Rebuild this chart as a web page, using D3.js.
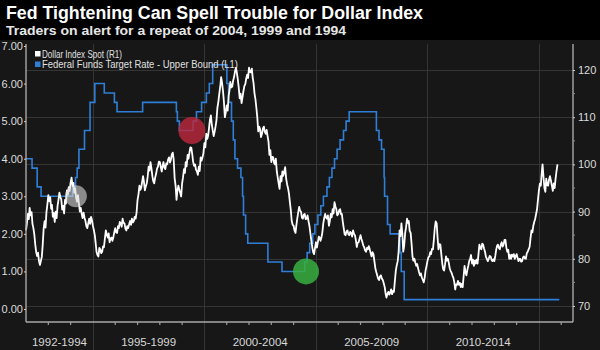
<!DOCTYPE html>
<html><head><meta charset="utf-8">
<script src="https://cdn.jsdelivr.net/npm/d3@7"></script>
<style>html,body{margin:0;padding:0;background:#000;} svg{display:block}</style>
</head><body><svg id="c" width="600" height="350"></svg>
<script>
// ---------------- DATA ----------------
const titleText = "Fed Tightening Can Spell Trouble for Dollar Index";
const subtitleText = "Traders on alert for a repeat of 2004, 1999 and 1994";
const legendLabels = ["Dollar Index Spot (R1)", "Federal Funds Target Rate - Upper Bound (L1)"];

// Dollar Index Spot, twice a month (1st and 16th), starting Jan 1992
const dxyStartYear = 1992;
const dxySemiMonthly = [
  86.0, 87.5, 89.5, 88.4, 90.8, 89.2, 89.9, 87.4, 86.5, 85.2, 83.0, 81.4, 80.6, 81.3, 79.5, 78.7, 79.6, 80.4, 83.0, 86.4, 88.0, 86.6, 89.9, 91.5, // 1992
  93.5, 92.2, 93.0, 90.6, 91.4, 88.9, 89.7, 87.8, 90.0, 88.6, 91.2, 92.5, 94.0, 93.1, 92.6, 90.4, 91.2, 89.6, 92.5, 91.7, 94.5, 93.6, 95.2, 94.4, // 1993
  96.2, 97.2, 95.4, 96.1, 94.0, 94.9, 93.0, 92.1, 93.5, 91.8, 90.0, 90.8, 89.5, 88.6, 89.8, 88.7, 88.0, 86.9, 86.5, 87.5, 88.5, 87.4, 88.9, 88.2, // 1994
  87.0, 86.1, 85.0, 83.2, 81.5, 80.8, 80.5, 82.3, 82.0, 81.2, 81.5, 82.6, 82.5, 84.3, 86.0, 85.1, 84.5, 85.4, 83.5, 84.3, 84.5, 83.8, 84.5, 85.6, // 1995
  86.5, 85.6, 85.5, 86.9, 86.5, 87.8, 87.5, 86.8, 88.5, 87.6, 87.5, 86.4, 86.0, 86.9, 86.5, 87.3, 88.0, 87.2, 88.5, 87.7, 88.0, 88.9, 88.5, 89.8, // 1996
  92.5, 93.6, 95.5, 94.6, 95.0, 96.2, 97.5, 96.3, 94.5, 95.3, 96.0, 97.4, 99.5, 98.7, 100.5, 99.2, 97.5, 96.4, 96.0, 97.2, 98.0, 99.1, 99.5, 100.6, // 1997
  100.5, 99.5, 98.5, 99.7, 100.5, 99.4, 99.0, 100.2, 100.0, 101.0, 101.5, 100.4, 101.0, 102.1, 102.5, 101.0, 97.0, 95.5, 92.5, 94.5, 95.5, 94.6, 94.0, 93.2, // 1998
  96.0, 97.3, 99.0, 98.2, 100.5, 99.6, 102.0, 101.2, 102.5, 103.6, 103.5, 102.1, 100.5, 99.7, 100.0, 98.9, 98.5, 97.8, 99.5, 98.6, 101.5, 100.8, 101.5, 102.4, // 1999
  104.5, 103.6, 106.5, 105.4, 106.0, 107.6, 109.5, 110.4, 108.5, 107.2, 106.0, 106.9, 108.0, 109.3, 112.0, 113.2, 115.0, 116.4, 118.5, 117.3, 115.5, 113.2, 110.0, 111.0, // 2000
  112.5, 111.4, 114.5, 115.8, 117.5, 116.3, 116.5, 117.8, 118.5, 119.7, 120.5, 119.4, 118.0, 116.3, 114.0, 115.0, 113.0, 114.2, 115.5, 116.6, 117.0, 118.2, 119.0, 118.3, // 2001
  120.5, 119.6, 119.5, 120.3, 118.5, 117.2, 115.0, 113.8, 112.0, 110.0, 107.0, 108.0, 107.5, 105.8, 106.5, 107.6, 108.0, 106.9, 106.5, 107.3, 106.0, 104.8, 102.0, 103.0, // 2002
  100.5, 101.6, 101.5, 100.3, 100.0, 101.2, 98.5, 97.2, 96.0, 94.8, 97.5, 96.4, 98.5, 97.6, 98.5, 99.4, 97.0, 95.8, 95.0, 93.9, 92.0, 90.3, 88.0, 87.2, // 2003
  87.0, 86.0, 85.5, 87.2, 88.5, 89.8, 91.0, 90.2, 90.0, 88.7, 88.5, 89.4, 89.5, 88.4, 88.5, 89.2, 88.0, 87.0, 85.5, 84.0, 82.5, 81.4, 81.0, 82.2, // 2004
  83.5, 82.4, 83.5, 84.7, 84.5, 83.8, 84.5, 85.6, 87.5, 88.6, 89.5, 88.7, 88.5, 89.2, 87.0, 88.0, 89.5, 88.8, 90.5, 89.6, 92.0, 91.1, 90.5, 89.2, // 2005
  89.5, 90.3, 90.5, 89.4, 89.5, 87.9, 86.5, 85.2, 85.0, 85.8, 86.0, 85.2, 85.0, 85.7, 85.5, 84.7, 86.0, 85.3, 85.0, 84.0, 82.5, 83.4, 83.5, 84.3, // 2006
  85.0, 84.2, 83.5, 82.8, 82.5, 81.8, 81.5, 82.3, 82.0, 82.7, 82.0, 81.2, 80.5, 81.4, 81.0, 79.5, 78.0, 77.2, 76.5, 75.8, 75.5, 76.3, 76.5, 75.8, // 2007
  75.5, 74.8, 74.0, 72.6, 71.8, 72.6, 73.0, 72.4, 72.8, 73.5, 72.5, 73.2, 73.0, 75.2, 77.5, 78.6, 79.5, 81.5, 86.0, 84.8, 87.5, 85.3, 81.5, 82.8, // 2008
  85.5, 86.7, 88.5, 87.6, 88.0, 85.9, 85.5, 83.2, 80.5, 79.6, 80.0, 79.2, 78.5, 78.9, 78.0, 77.2, 76.5, 76.9, 76.0, 75.6, 75.0, 75.9, 77.5, 78.4, // 2009
  79.5, 80.3, 80.5, 81.4, 81.0, 82.1, 82.0, 84.0, 86.5, 87.9, 87.5, 84.5, 82.0, 83.1, 83.0, 81.0, 79.0, 77.8, 77.5, 78.8, 80.5, 79.6, 80.0, 79.2, // 2010
  78.0, 77.4, 77.0, 76.4, 76.0, 75.1, 73.5, 74.6, 74.5, 75.3, 74.5, 74.9, 74.0, 74.7, 74.0, 76.2, 78.5, 77.1, 76.5, 77.6, 78.5, 79.5, 80.0, 80.8, // 2011
  79.0, 79.8, 78.5, 79.6, 79.0, 79.8, 79.0, 81.0, 83.0, 82.3, 82.0, 83.2, 83.0, 82.2, 81.5, 80.4, 80.0, 79.5, 80.0, 80.6, 80.5, 79.8, 79.5, 79.9, // 2012
  79.5, 80.6, 82.0, 82.8, 83.0, 82.3, 82.0, 83.0, 83.5, 82.6, 83.0, 84.0, 84.0, 82.4, 81.5, 81.9, 80.0, 80.8, 80.0, 80.9, 80.5, 81.0, 80.0, 80.5, // 2013
  81.0, 80.2, 79.5, 80.0, 80.0, 79.4, 79.5, 80.3, 80.5, 80.1, 80.0, 81.2, 81.5, 82.0, 82.5, 84.3, 86.0, 85.6, 87.0, 87.8, 88.5, 89.5, 90.5, 92.5, // 2014
  94.5, 95.9, 95.5, 98.2, 100.0, 97.5, 95.0, 94.2, 97.0, 95.6, 95.5, 96.8, 97.5, 96.6, 95.5, 94.4, 96.0, 95.0, 97.0, 98.6, 100.0 // 2015
];

// Federal Funds Target Rate - Upper Bound (step changes)
const fedDates = ["1992-01-01","1992-04-09","1992-07-02","1992-09-04","1994-02-04","1994-03-22","1994-04-18",
  "1994-05-17","1994-08-16","1994-11-15","1995-02-01","1995-07-06","1995-12-19","1996-01-31","1997-03-25",
  "1998-09-29","1998-10-15","1998-11-17","1999-06-30","1999-08-24","1999-11-16","2000-02-02","2000-03-21",
  "2000-05-16","2001-01-03","2001-01-31","2001-03-20","2001-04-18","2001-05-15","2001-06-27","2001-08-21",
  "2001-09-17","2001-10-02","2001-11-06","2001-12-11","2002-11-06","2003-06-25","2004-06-30","2004-08-10",
  "2004-09-21","2004-11-10","2004-12-14","2005-02-02","2005-03-22","2005-05-03","2005-06-30","2005-08-09",
  "2005-09-20","2005-11-01","2005-12-13","2006-01-31","2006-03-28","2006-05-10","2006-06-29","2007-09-18",
  "2007-10-31","2007-12-11","2008-01-22","2008-01-30","2008-03-18","2008-04-30","2008-10-08","2008-10-29",
  "2008-12-16","2015-11-30"];
const fedRates = [4.00,3.75,3.25,3.00,3.25,3.50,3.75,
  4.25,4.75,5.50,6.00,5.75,5.50,5.25,5.50,
  5.25,5.00,4.75,5.00,5.25,5.50,5.75,6.00,
  6.50,6.00,5.50,5.00,4.50,4.00,3.75,3.50,
  3.00,2.50,2.00,1.75,1.25,1.00,1.25,1.50,
  1.75,2.00,2.25,2.50,2.75,3.00,3.25,3.50,
  3.75,4.00,4.25,4.50,4.75,5.00,5.25,4.75,
  4.50,4.25,3.50,3.00,2.25,2.00,1.50,1.00,
  0.25,0.25];

// Highlight circles (date, rate on left axis)
const markDates = ["1994-03-28", "1999-06-10", "2004-07-22"];
const markRates = [3.00, 4.75, 1.00];

// Axis ticks and period labels
const leftTicks = [0, 1, 2, 3, 4, 5, 6, 7];
const rightTicks = [70, 80, 90, 100, 110, 120];
const rightMinorTicks = [75, 85, 95, 105, 115];
const periodBounds = [1992, 1995, 2000, 2005, 2010, 2015];
const periodLabels = ["1992-1994", "1995-1999", "2000-2004", "2005-2009", "2010-2014"];

// ---------------- DRAW ----------------
(function () {
const svg = d3.select("#c");
const W = 600, H = 350;
const pLeft = 26, pRight = 573, pTop = 44, pBottom = 322;
const parse = d3.utcParse("%Y-%m-%d");
const yr = y => new Date(Date.UTC(y, 0, 1));
const FONT = "Liberation Sans, Arial, sans-serif";

svg.append("rect").attr("width", W).attr("height", H).attr("fill", "#000");
svg.append("rect").attr("x", 0).attr("y", 40).attr("width", W).attr("height", H - 40).attr("fill", "#171717");

const x = d3.scaleUtc().domain([yr(1992), new Date(Date.UTC(2016, 6, 12))]).range([pLeft, pRight]);
const yL = d3.scaleLinear().domain([-0.346, 7.053]).range([pBottom, pTop]);
const yR = d3.scaleLinear().domain([66.61, 125.51]).range([pBottom, pTop]);

// title
svg.append("text").attr("x", 6).attr("y", 19).text(titleText)
  .attr("font-family", FONT).attr("font-weight", "bold")
  .attr("font-size", 17.5).attr("fill", "#fff")
  .attr("textLength", 417).attr("lengthAdjust", "spacingAndGlyphs");
svg.append("text").attr("x", 6).attr("y", 35).text(subtitleText)
  .attr("font-family", FONT).attr("font-weight", "bold")
  .attr("font-size", 12.5).attr("fill", "#e6e6e6")
  .attr("textLength", 340).attr("lengthAdjust", "spacingAndGlyphs");

// grid lines (right axis values)
const g = svg.append("g");
g.selectAll(".hg").data(rightTicks).join("line")
  .attr("x1", pLeft).attr("x2", pRight)
  .attr("y1", d => Math.round(yR(d)) + 0.5).attr("y2", d => Math.round(yR(d)) + 0.5)
  .attr("stroke", "#353535").attr("stroke-width", 1);
g.selectAll(".vg").data(periodBounds.slice(1)).join("line")
  .attr("x1", d => Math.round(x(yr(d))) + 0.5).attr("x2", d => Math.round(x(yr(d))) + 0.5)
  .attr("y1", pTop).attr("y2", H)
  .attr("stroke", "#353535").attr("stroke-width", 1);

// bottom yearly ticks (skip period bounds)
const years = d3.range(1993, 2017).filter(y => !periodBounds.includes(y));
g.selectAll(".yt").data(years).join("line")
  .attr("x1", d => x(yr(d))).attr("x2", d => x(yr(d)))
  .attr("y1", pBottom).attr("y2", pBottom + 3)
  .attr("stroke", "#9a9a9a").attr("stroke-width", 1.2);

// period labels
g.selectAll(".pl").data(periodLabels).join("text")
  .attr("x", (d, i) => (x(yr(periodBounds[i])) + x(yr(periodBounds[i + 1]))) / 2)
  .attr("y", 346).attr("text-anchor", "middle")
  .attr("font-family", FONT).attr("font-size", 11.5)
  .attr("fill", "#d8d8d8").text(d => d);

// Fed funds step line
const fedData = fedDates.map((d, i) => ({ date: parse(d), v: fedRates[i] }));
const fedLine = d3.line().x(d => x(d.date)).y(d => yL(d.v)).curve(d3.curveStepAfter);
svg.append("path").datum(fedData).attr("d", fedLine)
  .attr("fill", "none").attr("stroke", "#2f7fd8").attr("stroke-width", 1.6);

// DXY line
const dxyData = dxySemiMonthly.map((v, i) => ({
  date: new Date(Date.UTC(dxyStartYear + Math.floor(i / 24), Math.floor((i % 24) / 2), i % 2 ? 16 : 1)), v }));
const dxyLine = d3.line().x(d => x(d.date)).y(d => yR(d.v));
svg.append("path").datum(dxyData).attr("d", dxyLine)
  .attr("fill", "none").attr("stroke", "#ffffff").attr("stroke-width", 1.8).attr("stroke-linejoin", "round");

// highlight circles
const markFill = ["rgba(215,215,215,0.6)", "rgba(190,40,60,0.8)", "rgba(55,175,65,0.85)"];
const markR = [11, 13.5, 13];
svg.selectAll(".mk").data(markDates).join("circle")
  .attr("cx", d => x(parse(d))).attr("cy", (d, i) => yL(markRates[i]))
  .attr("r", (d, i) => markR[i]).attr("fill", (d, i) => markFill[i]);

// axes lines
const axCol = "#a8a8a8";
svg.append("line").attr("x1", pLeft).attr("x2", pLeft).attr("y1", pTop).attr("y2", pBottom).attr("stroke", axCol).attr("stroke-width", 1.4);
svg.append("line").attr("x1", pRight).attr("x2", pRight).attr("y1", pTop).attr("y2", pBottom).attr("stroke", axCol).attr("stroke-width", 1.4);
svg.append("line").attr("x1", pLeft).attr("x2", pRight).attr("y1", pBottom).attr("y2", pBottom).attr("stroke", axCol).attr("stroke-width", 1.4);

// left axis
const la = svg.append("g").attr("transform", `translate(${pLeft},0)`)
  .call(d3.axisLeft(yL).tickValues(leftTicks).tickFormat(d3.format(".2f")).tickSize(2).tickPadding(1));
la.select(".domain").remove();
la.selectAll("line").attr("stroke", "#cfcfcf");
la.selectAll("text").attr("font-family", FONT).attr("font-size", 11).attr("fill", "#dcdcdc");

// right axis
const ra = svg.append("g").attr("transform", `translate(${pRight},0)`)
  .call(d3.axisRight(yR).tickValues(rightTicks).tickSize(2).tickPadding(3));
ra.select(".domain").remove();
ra.selectAll("line").attr("stroke", "#cfcfcf");
ra.selectAll("text").attr("font-family", FONT).attr("font-size", 11).attr("fill", "#dcdcdc");
svg.append("g").selectAll("line").data(rightMinorTicks).join("line")
  .attr("x1", pRight).attr("x2", pRight + 2).attr("y1", d => yR(d)).attr("y2", d => yR(d))
  .attr("stroke", "#8a8a8a");

// legend
const legColors = ["#ffffff", "#2f7fd8"];
const leg = svg.append("g");
legendLabels.forEach((t, i) => {
  leg.append("rect").attr("x", 35).attr("y", 51 + i * 10.5).attr("width", 5.5).attr("height", 5.5).attr("fill", legColors[i]);
  leg.append("text").attr("x", 42).attr("y", 57.8 + i * 10.5).text(t)
    .attr("font-family", FONT).attr("font-size", 11).attr("fill", "#e0e0e0")
    .attr("textLength", i === 0 ? 80 : 196).attr("lengthAdjust", "spacingAndGlyphs");
});
})();
</script></body></html>
